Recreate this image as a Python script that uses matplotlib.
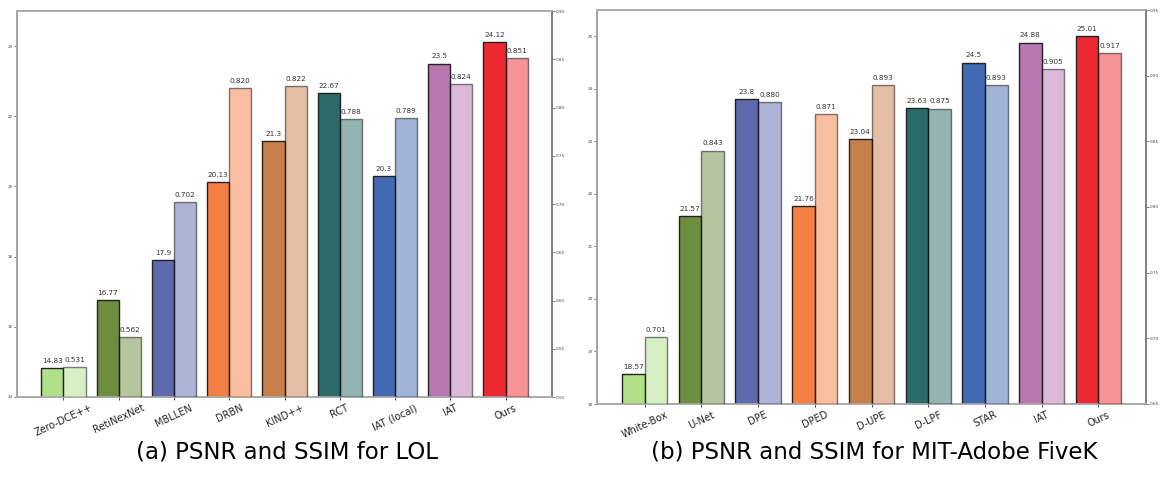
import matplotlib
matplotlib.use("Agg")
import matplotlib.pyplot as plt

# ---- data ----
lol_methods = ["Zero-DCE++", "RetiNexNet", "MBLLEN", "DRBN", "KIND++", "RCT", "IAT (local)", "IAT", "Ours"]
lol_psnr = [14.83, 16.77, 17.9, 20.13, 21.3, 22.67, 20.3, 23.5, 24.12]
lol_ssim = [0.531, 0.562, 0.702, 0.820, 0.822, 0.788, 0.789, 0.824, 0.851]

fivek_methods = ["White-Box", "U-Net", "DPE", "DPED", "D-UPE", "D-LPF", "STAR", "IAT", "Ours"]
fivek_psnr = [18.57, 21.57, 23.8, 21.76, 23.04, 23.63, 24.5, 24.88, 25.01]
fivek_ssim = [0.701, 0.843, 0.880, 0.871, 0.893, 0.875, 0.893, 0.905, 0.917]

palette = ['#b1e08a', '#6d8e3e', '#5f6aae', '#f47f42', '#c87f4a',
           '#2a6b69', '#426bb3', '#b877b0', '#ec2930']

W, H = 1162, 478
fig = plt.figure(figsize=(W / 100, H / 100), dpi=100)


def panel(rect, methods, psnr, ssim, ylim1, ylim2, yt1, yt2, caption, cap_xy):
    ax = fig.add_axes(rect)
    ax2 = ax.twinx()
    x = list(range(len(methods)))
    w = 0.4
    xp = [i - w / 2 for i in x]
    xs = [i + w / 2 for i in x]
    b1 = ax.bar(xp, psnr, width=w, color=palette, edgecolor='#222222', linewidth=1.0, zorder=3)
    b2 = ax2.bar(xs, ssim, width=w, color=palette, edgecolor='black', linewidth=1.0, alpha=0.5, zorder=3)
    for rect_, v in zip(b1, psnr):
        ax.annotate(str(v), (rect_.get_x() + rect_.get_width() / 2, rect_.get_height()),
                    xytext=(0, 3), textcoords='offset points', ha='center', va='bottom',
                    fontsize=5.2, color='#333333')
    for rect_, v in zip(b2, ssim):
        ax2.annotate('%.3f' % v, (rect_.get_x() + rect_.get_width() / 2, rect_.get_height()),
                     xytext=(0, 3), textcoords='offset points', ha='center', va='bottom',
                     fontsize=5.2, color='#333333')
    ax.set_ylim(*ylim1)
    ax2.set_ylim(*ylim2)
    ax.set_yticks(yt1)
    ax2.set_yticks(yt2)
    ax.set_yticklabels([str(t) for t in yt1])
    ax2.set_yticklabels(['%.2f' % t for t in yt2])
    ax.set_xticks(x)
    ax.set_xticklabels(methods, rotation=25, fontsize=7, color='#222222')
    for a in (ax, ax2):
        a.tick_params(axis='y', labelsize=3, length=2, width=0.5, pad=1, colors='#444444')
        for s in a.spines.values():
            s.set_color('#aaaaaa')
            s.set_linewidth(1.2)
    ax.spines['left'].set_color('#777777')
    ax2.spines['right'].set_color('#777777')
    ax.tick_params(axis='x', length=2, width=0.5, pad=2)
    fig.text(cap_xy[0] / W, 1 - cap_xy[1] / H, caption, ha='center', va='center',
             fontsize=16.5, color='black', family='DejaVu Sans')
    return ax, ax2


panel([17 / W, 1 - 397 / H, 535 / W, 386 / H], lol_methods, lol_psnr, lol_ssim,
      (14, 25), (0.5, 0.9), [14, 16, 18, 20, 22, 24],
      [0.50, 0.55, 0.60, 0.65, 0.70, 0.75, 0.80, 0.85, 0.90],
      "(a) PSNR and SSIM for LOL", (287, 452))

panel([597 / W, 1 - 404 / H, 549 / W, 394 / H], fivek_methods, fivek_psnr, fivek_ssim,
      (18, 25.5), (0.65, 0.95), [18, 19, 20, 21, 22, 23, 24, 25],
      [0.65, 0.70, 0.75, 0.80, 0.85, 0.90, 0.95],
      "(b) PSNR and SSIM for MIT-Adobe FiveK", (874, 452))

fig.savefig("out.png", dpi=100)
